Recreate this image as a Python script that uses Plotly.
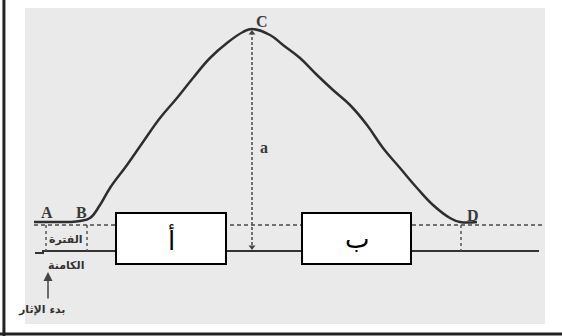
# -*- coding: utf-8 -*-
"""Muscle twitch curve (schematic) with latent period, contraction and relaxation boxes."""

import plotly.graph_objects as go

# time axis (arbitrary units, 0 = stimulus) and tension (0 = resting level)
TIME = [-12, 14, 24, 34, 44, 54, 64, 81, 97, 114, 131, 147, 164, 181, 197, 206,
        224, 237, 254, 271, 287, 304, 321, 337, 354, 371, 387, 404, 414, 431]
TENSION = [3, 3, 3, 4, 7, 20, 37, 60, 83, 107, 127, 147, 167, 182, 193, 196,
           190, 180, 167, 150, 135, 120, 100, 77, 57, 37, 20, 7, 3, 3]

REST_SPAN = [-12, 497]           # dashed resting level
STIM_TIME = [-11, -3, -3, 493]   # stimulus trace
STIM_LEVEL = [-28, -28, -26, -26]
MARK_TIMES = [0, 41, 415]         # A, B, D projections
PEAK_TIME = 206
PEAK_TENSION = 196
POINT_LABELS = ["A", "B", "C", "D"]
POINT_TIMES = [1, 35, 216, 427]
POINT_TENSION = [13, 13, 204, 10]
BOX_LABELS = ["أ", "ب"]
BOX_TIMES = [(70, 180), (256, 365)]

INK = "#2e2e2e"
fig = go.Figure()

# scanned page background
fig.add_shape(type="rect", x0=-21, x1=499, y0=-99, y1=217,
              fillcolor="#ebeaea", line_width=0, layer="below")

# resting level
fig.add_trace(go.Scatter(x=REST_SPAN, y=[0, 0], mode="lines",
                         line=dict(color="#4a4a4a", width=1.5, dash="4px,3px")))
# stimulus trace
fig.add_trace(go.Scatter(x=STIM_TIME, y=STIM_LEVEL, mode="lines",
                         line=dict(color="#333333", width=2)))
# dotted projections
for t in MARK_TIMES:
    fig.add_trace(go.Scatter(x=[t, t], y=[0, STIM_LEVEL[-1]], mode="lines",
                             line=dict(color="#555555", width=1.5, dash="dot")))
# amplitude arrow
fig.add_trace(go.Scatter(x=[PEAK_TIME, PEAK_TIME], y=[PEAK_TENSION - 3, STIM_LEVEL[-1] + 3],
                         mode="lines", line=dict(color="#4a4a4a", width=1.5, dash="3px,2px")))
fig.add_trace(go.Scatter(x=[PEAK_TIME, PEAK_TIME], y=[PEAK_TENSION - 4, STIM_LEVEL[-1] + 4],
                         mode="markers",
                         marker=dict(symbol=["triangle-up", "triangle-down"], size=6, color="#444444")))
# twitch curve
fig.add_trace(go.Scatter(x=TIME, y=TENSION, mode="lines",
                         line=dict(color=INK, width=2.5, shape="spline", smoothing=1.2)))

for lab, t, v in zip(POINT_LABELS, POINT_TIMES, POINT_TENSION):
    fig.add_annotation(x=t, y=v, text=f"<b>{lab}</b>", showarrow=False,
                       font=dict(family="Liberation Serif", size=16, color="#3a3a3a"))
fig.add_annotation(x=PEAK_TIME + 12, y=78, text="<b>a</b>", showarrow=False,
                   font=dict(family="Liberation Serif", size=16, color="#3a3a3a"))

# boxes
for lab, (t0, t1) in zip(BOX_LABELS, BOX_TIMES):
    fig.add_shape(type="rect", x0=t0, x1=t1, y0=-39, y1=12,
                  fillcolor="white", line=dict(color="black", width=2))
    fig.add_annotation(x=(t0 + t1) / 2, y=-14, text=lab, showarrow=False,
                       font=dict(family="DejaVu Sans", size=26, color="black"))

# arabic captions
fig.add_annotation(x=20, y=-14, text="<b>الفترة</b>", showarrow=False,
                   font=dict(family="DejaVu Sans", size=11, color="#333333"))
fig.add_annotation(x=20, y=-40, text="<b>الكامنة</b>", showarrow=False,
                   font=dict(family="DejaVu Sans", size=11, color="#333333"))
fig.add_annotation(x=22, y=-84, text="<b>بدء الإثار</b>", showarrow=False, xanchor="right",
                   font=dict(family="DejaVu Sans", size=11, color="#333333"))
fig.add_annotation(x=2, y=-47, ax=2, ay=-75, axref="x", ayref="y", text="",
                   showarrow=True, arrowhead=2, arrowsize=1.2, arrowwidth=1.5, arrowcolor="#444444")

# outer frame (left and bottom)
fig.add_shape(type="line", xref="paper", yref="paper", x0=0.007, x1=0.007, y0=0, y1=1,
              line=dict(color="#222222", width=3))
fig.add_shape(type="line", xref="paper", yref="paper", x0=0, x1=1, y0=0.006, y1=0.006,
              line=dict(color="#222222", width=3))

fig.update_layout(
    width=562, height=336,
    margin=dict(l=0, r=0, t=0, b=0),
    paper_bgcolor="white", plot_bgcolor="white",
    showlegend=False, hovermode=False,
)
fig.update_xaxes(range=[-46, 516], visible=False, fixedrange=True)
fig.update_yaxes(range=[-111, 225], visible=False, fixedrange=True)

fig.write_html("out.html", config={"displayModeBar": False},
               post_script="document.body.style.margin='0';document.body.style.overflow='hidden';")
